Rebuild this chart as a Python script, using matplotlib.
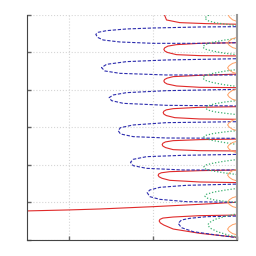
import matplotlib
matplotlib.use("Agg")
import matplotlib.pyplot as plt

# red branches (solid)
red_x = [
    [-0.55, -0.028, 0.369, 1.004, 1.559, 2.05],
    [2.05, 1.559, 1.242, 1.120, 1.085, 1.075, 1.090, 1.130, 1.242, 1.559, 2.05],
    [2.05, 1.559, 1.202, 1.100, 1.070, 1.063, 1.075, 1.110, 1.202, 1.559, 2.05],
    [2.05, 1.559, 1.242, 1.150, 1.120, 1.111, 1.120, 1.150, 1.242, 1.559, 2.05],
    [2.05, 1.559, 1.242, 1.160, 1.132, 1.123, 1.132, 1.160, 1.262, 1.559, 2.05],
    [2.05, 1.559, 1.242, 1.170, 1.140, 1.131, 1.140, 1.170, 1.282, 1.559, 2.05],
    [2.05, 1.559, 1.282, 1.180, 1.142, 1.131, 1.142, 1.175, 1.282, 1.559, 2.05],
    [1.131, 1.139, 1.163, 1.321, 1.639, 2.05],
]
red_y = [
    [0.773, 0.80, 0.827, 0.889, 0.951, 1.013],
    [0.667, 0.649, 0.613, 0.585, 0.550, 0.507, 0.455, 0.400, 0.293, 0.178, 0.06],
    [1.867, 1.849, 1.822, 1.792, 1.760, 1.724, 1.685, 1.645, 1.591, 1.547, 1.529],
    [2.693, 2.676, 2.649, 2.615, 2.580, 2.542, 2.505, 2.465, 2.409, 2.382, 2.373],
    [3.556, 3.538, 3.502, 3.470, 3.435, 3.396, 3.357, 3.318, 3.262, 3.227, 3.218],
    [4.427, 4.391, 4.356, 4.315, 4.280, 4.240, 4.200, 4.160, 4.107, 4.071, 4.062],
    [5.262, 5.244, 5.209, 5.170, 5.125, 5.084, 5.040, 5.000, 4.942, 4.916, 4.907],
    [6.08, 6.0, 5.867, 5.796, 5.769, 5.751],
]

# blue branches (dashed)
blue_x = [
    [2.05, 1.639, 1.441, 1.341, 1.302, 1.341, 1.480, 1.758, 2.05],
    [2.05, 1.401, 1.083, 0.964, 0.933, 0.964, 1.083, 1.401, 2.05],
    [2.05, 1.361, 0.925, 0.766, 0.734, 0.766, 0.925, 1.361, 2.05],
    [2.05, 1.163, 0.766, 0.615, 0.587, 0.615, 0.766, 1.163, 2.05],
    [2.05, 1.163, 0.687, 0.528, 0.480, 0.508, 0.647, 1.163, 2.05],
    [2.05, 1.163, 0.687, 0.449, 0.389, 0.429, 0.607, 1.163, 2.05],
    [2.05, 1.559, 1.004, 0.687, 0.449, 0.349, 0.321, 0.341, 0.409, 0.607, 1.004, 1.559, 2.05],
]
blue_y = [
    [0.640, 0.622, 0.578, 0.533, 0.444, 0.329, 0.222, 0.133, 0.05],
    [1.493, 1.458, 1.404, 1.333, 1.262, 1.156, 1.084, 1.022, 1.004],
    [2.284, 2.258, 2.222, 2.151, 2.071, 1.982, 1.911, 1.867, 1.867],
    [3.156, 3.129, 3.067, 2.996, 2.916, 2.827, 2.756, 2.720, 2.711],
    [4.018, 3.982, 3.929, 3.867, 3.796, 3.716, 3.644, 3.591, 3.573],
    [4.836, 4.800, 4.756, 4.684, 4.596, 4.507, 4.444, 4.400, 4.400],
    [5.689, 5.680, 5.653, 5.627, 5.582, 5.538, 5.484, 5.404, 5.333, 5.280, 5.244, 5.244, 5.262],
]

# green branches (dotted)
green_x = [
    [2.05, 1.88, 1.74, 1.67, 1.655, 1.68, 1.77, 1.90, 2.05],
    [2.05, 1.86, 1.73, 1.64, 1.619, 1.64, 1.73, 1.86, 2.05],
    [2.05, 1.85, 1.72, 1.63, 1.607, 1.63, 1.72, 1.85, 2.05],
    [2.05, 1.85, 1.72, 1.63, 1.607, 1.63, 1.72, 1.85, 2.05],
    [2.05, 1.86, 1.73, 1.65, 1.631, 1.65, 1.73, 1.86, 2.05],
    [2.05, 1.85, 1.71, 1.62, 1.595, 1.62, 1.71, 1.85, 2.05],
    [2.05, 1.85, 1.71, 1.62, 1.595, 1.62, 1.71, 1.85, 2.05],
    [1.74, 1.65, 1.619, 1.65, 1.75, 2.05],
]
green_y = [
    [0.72, 0.64, 0.55, 0.46, 0.40, 0.32, 0.22, 0.13, 0.06],
    [1.39, 1.33, 1.28, 1.22, 1.173, 1.12, 1.07, 1.03, 0.99],
    [2.16, 2.10, 2.05, 2.00, 1.947, 1.89, 1.84, 1.79, 1.73],
    [2.93, 2.88, 2.84, 2.79, 2.747, 2.70, 2.65, 2.60, 2.53],
    [3.73, 3.68, 3.63, 3.57, 3.52, 3.47, 3.42, 3.38, 3.33],
    [4.56, 4.50, 4.44, 4.38, 4.32, 4.26, 4.20, 4.14, 4.08],
    [5.39, 5.33, 5.27, 5.21, 5.147, 5.09, 5.04, 4.98, 4.93],
    [6.05, 5.98, 5.92, 5.85, 5.79, 5.70],
]

# orange branches (thin solid)
orange_x = [
    [2.05, 1.95, 1.91, 1.89, 1.91, 1.95, 2.05],
    [2.05, 1.95, 1.91, 1.89, 1.91, 1.95, 2.05],
    [2.05, 1.95, 1.91, 1.89, 1.91, 1.95, 2.05],
    [2.05, 1.95, 1.91, 1.89, 1.91, 1.95, 2.05],
    [2.05, 1.95, 1.91, 1.89, 1.91, 1.95, 2.05],
    [2.05, 1.95, 1.91, 1.89, 1.91, 1.95, 2.05],
    [2.05, 1.95, 1.91, 1.89, 1.91, 1.95, 2.05],
    [2.05, 1.95, 1.91, 1.89, 1.91, 1.95, 2.05],
    [1.89, 1.91, 1.95, 2.05],
]
orange_y = [
    [0.47, 0.41, 0.35, 0.29, 0.23, 0.17, 0.11],
    [1.19, 1.13, 1.07, 1.01, 0.95, 0.89, 0.83],
    [1.91, 1.85, 1.79, 1.73, 1.67, 1.61, 1.55],
    [2.66, 2.60, 2.54, 2.48, 2.42, 2.36, 2.30],
    [3.25, 3.19, 3.13, 3.07, 3.01, 2.95, 2.89],
    [4.05, 3.99, 3.93, 3.87, 3.81, 3.75, 3.69],
    [4.77, 4.71, 4.65, 4.59, 4.53, 4.47, 4.41],
    [5.43, 5.37, 5.31, 5.25, 5.19, 5.13, 5.07],
    [6.05, 5.95, 5.87, 5.79],
]

xticks = [0, 1, 2]
yticks = [0, 1, 2, 3, 4, 5, 6]

fig = plt.figure(figsize=(2.56, 2.56), dpi=100)
ax = fig.add_axes([0.105, 0.0625, 0.82, 0.879])

ax.grid(True, color='#d6d6d6', linestyle=':', linewidth=0.8)
ax.set_axisbelow(True)

for xs, ys in zip(red_x, red_y):
    ax.plot(xs, ys, color='#e02a2a', lw=0.8)
for xs, ys in zip(blue_x, blue_y):
    ax.plot(xs, ys, color='#2c2cae', lw=0.8, dashes=(3, 1.5))
for xs, ys in zip(green_x, green_y):
    ax.plot(xs, ys, color='#3cb070', lw=0.9, dashes=(1, 1.5))
for xs, ys in zip(orange_x, orange_y):
    ax.plot(xs, ys, color='#ffa062', lw=0.7)

ax.set_xlim(-0.5, 2)
ax.set_ylim(0, 6)
ax.set_xticks(xticks)
ax.set_yticks(yticks)
ax.set_xticklabels([])
ax.set_yticklabels([])
ax.tick_params(direction='in', length=3, color='#666666', width=1)

ax.spines['top'].set_visible(False)
ax.spines['left'].set_color('#444444')
ax.spines['bottom'].set_color('#444444')
ax.spines['right'].set_color('#999999')
ax.spines['right'].set_linewidth(1.5)

fig.savefig('out.png', dpi=100)
